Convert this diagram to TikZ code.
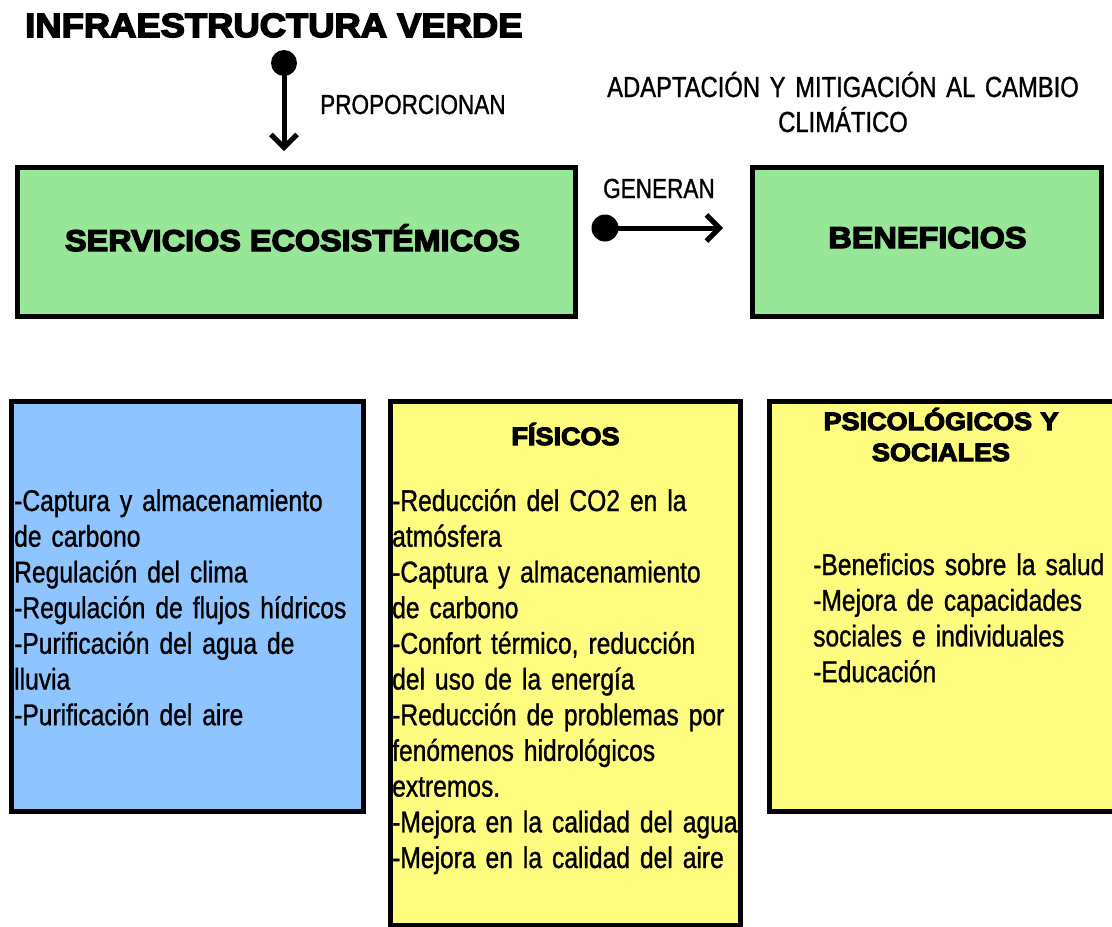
\documentclass[tikz,border=0pt]{standalone}
\usepackage{fontspec}
\setmainfont{Liberation Sans}
\newfontfamily\narrow[FakeStretch=0.82,FakeBold=1,WordSpace=0.6]{Liberation Sans}
\newfontfamily\heavy[FakeStretch=1.08,FakeBold=4.5]{Liberation Sans Bold}
\usetikzlibrary{arrows.meta}
\definecolor{boxgreen}{RGB}{152,230,152}
\definecolor{boxblue}{RGB}{142,196,255}
\definecolor{boxyellow}{RGB}{255,252,128}
\begin{document}
\begin{tikzpicture}[x=1pt,y=-1pt,
  box/.style={draw=black, line width=5pt, rectangle, inner sep=0pt},
  heavytxt/.style={font=\heavy\fontsize{30}{36}\selectfont, inner sep=0pt, text=black, anchor=base},
  bodytxt/.style={font=\narrow\fontsize{30}{35.7}\selectfont, inner sep=0pt, align=left, text width=380pt, anchor=base west},
  labeltxt/.style={font=\narrow\fontsize{27.5}{35}\selectfont, inner sep=0pt, anchor=base west},
  link/.style={line width=5pt, -{Straight Barb[length=13pt,width=26pt,line width=5pt]}},
  dotend/.style={fill=black}
]
\clip (0,0) rectangle (1112,927);
\fill[white] (0,0) rectangle (1112,927);

% title
\node[heavytxt, font=\heavy\fontsize{33.7}{40}\selectfont, anchor=base west] (title) at (25,37) {INFRAESTRUCTURA VERDE};

% vertical connector
\coordinate (a1) at (284,63);
\coordinate (a2) at (284,151);
\fill[dotend] (a1) circle (13pt);
\draw[link] (a1) -- (a2);
\node[labeltxt] (prop) at (320,114) {PROPORCIONAN};

% top text
\node[font=\narrow\fontsize{29}{35}\selectfont, align=center, text width=560pt, inner sep=0pt, anchor=base] (adapt) at (843,97) {ADAPTACIÓN Y MITIGACIÓN AL CAMBIO\\CLIMÁTICO};

% green boxes
\node[box, fill=boxgreen, minimum width=558pt, minimum height=149pt] (serv) at (296,241.5) {};
\node[heavytxt] (servt) at (292.5,251) {SERVICIOS ECOSISTÉMICOS};
\node[box, fill=boxgreen, minimum width=349pt, minimum height=149pt] (ben) at (926.5,241.5) {};
\node[heavytxt] (bent) at (927.5,248) {BENEFICIOS};

% horizontal connector
\coordinate (b1) at (605,228);
\coordinate (b2) at (723,228);
\fill[dotend] (b1) circle (13.5pt);
\draw[link] (b1) -- (b2);
\node[labeltxt] (gen) at (603,198) {GENERAN};

% lower boxes
\node[box, fill=boxblue, minimum width=352pt, minimum height=410pt] (blue) at (187,606) {};
\node[box, fill=boxyellow, minimum width=350pt, minimum height=524pt] (fis) at (565,663) {};
\node[box, fill=boxyellow, minimum width=360pt, minimum height=410pt] (psi) at (949.5,606) {};

\node[bodytxt] (bluet) at (14,511) {-Captura y almacenamiento\\de carbono\\Regulación del clima\\-Regulación de flujos hídricos\\-Purificación del agua de\\lluvia\\-Purificación del aire};

\node[heavytxt, font=\heavy\fontsize{25}{31}\selectfont] (fist) at (565.5,445) {FÍSICOS};
\node[bodytxt] (fisb) at (392,511) {-Reducción del CO2 en la\\atmósfera\\-Captura y almacenamiento\\de carbono\\-Confort térmico, reducción\\del uso de la energía\\-Reducción de problemas por\\fenómenos hidrológicos\\extremos.\\-Mejora en la calidad del agua\\-Mejora en la calidad del aire};

\node[font=\heavy\fontsize{25}{31}\selectfont, align=center, text width=320pt, inner sep=0pt, anchor=base] (psit) at (941,430) {PSICOLÓGICOS Y\\SOCIALES};
\node[bodytxt] (psib) at (813,575) {-Beneficios sobre la salud\\-Mejora de capacidades\\sociales e individuales\\-Educación};
\end{tikzpicture}
\end{document}
